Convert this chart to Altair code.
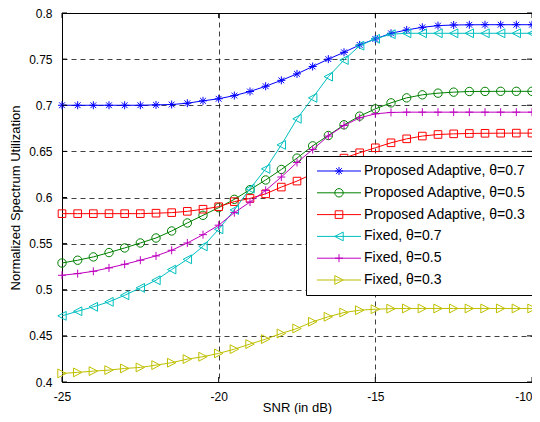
import altair as alt
import pandas as pd

snr = [-25, -24.5, -24, -23.5, -23, -22.5, -22, -21.5, -21, -20.5, -20,
       -19.5, -19, -18.5, -18, -17.5, -17, -16.5, -16, -15.5, -15,
       -14.5, -14, -13.5, -13, -12.5, -12, -11.5, -11, -10.5, -10]

series_names = [
    "Proposed Adaptive, θ=0.7",
    "Proposed Adaptive, θ=0.5",
    "Proposed Adaptive, θ=0.3",
    "Fixed, θ=0.7",
    "Fixed, θ=0.5",
    "Fixed, θ=0.3",
]

pa07 = [0.700, 0.700, 0.700, 0.700, 0.700, 0.700, 0.7004, 0.7008, 0.7022, 0.7048, 0.707,
        0.7105, 0.7149, 0.7206, 0.727, 0.734, 0.742, 0.750, 0.7574, 0.7654, 0.7719,
        0.778, 0.7816, 0.7845, 0.7863, 0.787, 0.7872, 0.7873, 0.7873, 0.7873, 0.7873]
pa05 = [0.529, 0.532, 0.5356, 0.5403, 0.5453, 0.5507, 0.5561, 0.5637, 0.5724, 0.5807, 0.589,
        0.598, 0.6085, 0.619, 0.6304, 0.6427, 0.656, 0.6672, 0.6788, 0.6882, 0.6961,
        0.7026, 0.708, 0.7113, 0.7131, 0.7142, 0.7149, 0.715, 0.7151, 0.7151, 0.7151]
pa03 = [0.5825, 0.5825, 0.5825, 0.5825, 0.5825, 0.5825, 0.583, 0.5836, 0.585, 0.5873, 0.590,
        0.5955, 0.599, 0.604, 0.6113, 0.6178, 0.6255, 0.634, 0.6427, 0.6485, 0.6539,
        0.6593, 0.6636, 0.6666, 0.6683, 0.669, 0.6694, 0.6696, 0.6697, 0.6698, 0.6698]
fx07 = [0.4717, 0.4767, 0.4815, 0.4869, 0.494, 0.502, 0.5103, 0.5219, 0.533, 0.547, 0.5655,
        0.5865, 0.6095, 0.631, 0.657, 0.6853, 0.708, 0.731, 0.749, 0.7646, 0.772,
        0.777, 0.778, 0.778, 0.778, 0.778, 0.778, 0.778, 0.778, 0.778, 0.778]
fx05 = [0.5157, 0.5175, 0.520, 0.5237, 0.5276, 0.532, 0.5367, 0.5428, 0.5507, 0.5597, 0.570,
        0.5836, 0.5951, 0.6077, 0.6222, 0.638, 0.652, 0.6666, 0.678, 0.6864, 0.6907,
        0.6922, 0.6925, 0.6925, 0.6925, 0.6925, 0.6925, 0.6925, 0.6925, 0.6925, 0.6925]
fx03 = [0.4093, 0.4104, 0.4118, 0.4129, 0.4147, 0.4158, 0.4183, 0.4209, 0.4248, 0.4274, 0.431,
        0.4356, 0.4411, 0.4465, 0.4526, 0.458, 0.4653, 0.4707, 0.4753, 0.4778, 0.4789,
        0.4795, 0.4797, 0.4797, 0.4797, 0.4797, 0.4797, 0.4797, 0.4797, 0.4797, 0.4797]

x_ticks = [-25, -20, -15, -10]
y_ticks = [0.4, 0.45, 0.5, 0.55, 0.6, 0.65, 0.7, 0.75, 0.8]

colors = ["#0000FF", "#008000", "#FF0000", "#00BFBF", "#BF00BF", "#BFBF00"]

star = "M-1,0L1,0M0,-1L0,1M-0.72,-0.72L0.72,0.72M-0.72,0.72L0.72,-0.72"
circle = "M-1.05,0A1.05,1.05 0 1,1 1.05,0A1.05,1.05 0 1,1 -1.05,0Z"
square = "M-0.95,-0.95L0.95,-0.95L0.95,0.95L-0.95,0.95Z"
tri_left = "M-1.05,0L1.05,-1.1L1.05,1.1Z"
plus = "M-1,0L1,0M0,-1L0,1"
tri_right = "M1.05,0L-1.05,-1.1L-1.05,1.1Z"
marker_paths = [star, circle, square, tri_left, plus, tri_right]
seg = "M-5.5,0L5.5,0"
legend_paths = [seg + p for p in marker_paths]

W, H = 470, 369
FONT = "Liberation Sans"

rows = []
for name, vals in zip(series_names, [pa07, pa05, pa03, fx07, fx05, fx03]):
    for s, v in zip(snr, vals):
        rows.append({"snr": s, "value": v, "series": name})
df = pd.DataFrame(rows)

x_scale = alt.Scale(domain=[-25, -10], nice=False, zero=False)
y_scale = alt.Scale(domain=[0.4, 0.8], nice=False, zero=False)
color_scale = alt.Scale(domain=series_names, range=colors)
shape_scale = alt.Scale(domain=series_names, range=legend_paths)

x_axis = alt.Axis(values=x_ticks, title="SNR (in dB)", labelExpr="'' + datum.value",
                  labelPadding=9, labelFlush=False,
                  labelAlign=alt.ExprRef(expr="datum.value == -10 ? 'right' : 'center'"),
                  titleBaseline="alphabetic", titleY=29)
y_axis = alt.Axis(values=y_ticks, title="Normalized Spectrum Utilization",
                  labelExpr="'' + datum.value", labelPadding=10, titlePadding=6)


def xenc(field="snr"):
    return alt.X(f"{field}:Q", scale=x_scale, axis=x_axis)


def yenc(field="value"):
    return alt.Y(f"{field}:Q", scale=y_scale, axis=y_axis)


base = alt.Chart(df)

legend_layer = base.transform_filter("false").mark_point(
    filled=False, size=64, strokeWidth=1, opacity=1
).encode(
    x=xenc(), y=yenc(),
    color=alt.Color("series:N", scale=color_scale, title=None),
    shape=alt.Shape("series:N", scale=shape_scale, title=None),
)

series_layers = []
for name, path, col in zip(series_names, marker_paths, colors):
    sub = base.transform_filter(alt.datum.series == name)
    series_layers.append(
        sub.mark_line(strokeWidth=1, color=col).encode(x=xenc(), y=yenc())
    )
    series_layers.append(
        sub.mark_point(shape=path, filled=False, size=64, strokeWidth=1,
                       opacity=1, color=col).encode(x=xenc(), y=yenc())
    )

yt = alt.Chart(pd.DataFrame({"v": y_ticks}))
xt = alt.Chart(pd.DataFrame({"v": x_ticks}))
tick_layers = [
    yt.mark_rule(color="black", strokeWidth=1).encode(
        y=yenc("v"), x=alt.value(0), x2=alt.value(5)),
    yt.mark_rule(color="black", strokeWidth=1).encode(
        y=yenc("v"), x=alt.value(W - 5), x2=alt.value(W)),
    xt.mark_rule(color="black", strokeWidth=1).encode(
        x=xenc("v"), y=alt.value(H - 5), y2=alt.value(H)),
    xt.mark_rule(color="black", strokeWidth=1).encode(
        x=xenc("v"), y=alt.value(0), y2=alt.value(5)),
]

chart = alt.layer(legend_layer, *series_layers, *tick_layers).properties(
    width=W, height=H,
    autosize=alt.AutoSizeParams(type="none"),
    padding={"left": 54, "top": 5, "right": 0, "bottom": 32},
    background="white",
).configure_view(
    stroke="black", strokeWidth=1
).configure_axis(
    domain=False, ticks=False, grid=True,
    gridColor="#000000", gridOpacity=0.75, gridDash=[5, 4], gridWidth=1,
    labelFont=FONT, labelFontSize=12, labelColor="black",
    titleFont=FONT, titleFontSize=13, titleFontWeight="normal", titleColor="black",
).configure_legend(
    orient="none", legendX=244, legendY=143,
    fillColor="white", strokeColor="black", padding=8, cornerRadius=0,
    labelFont=FONT, labelFontSize=14, labelColor="black", labelLimit=300,
    rowPadding=7.8, symbolOffset=18, labelOffset=18,
    symbolSize=64, symbolStrokeWidth=1,
)

chart.save("out.html", embed_options={"renderer": "svg", "actions": False})
